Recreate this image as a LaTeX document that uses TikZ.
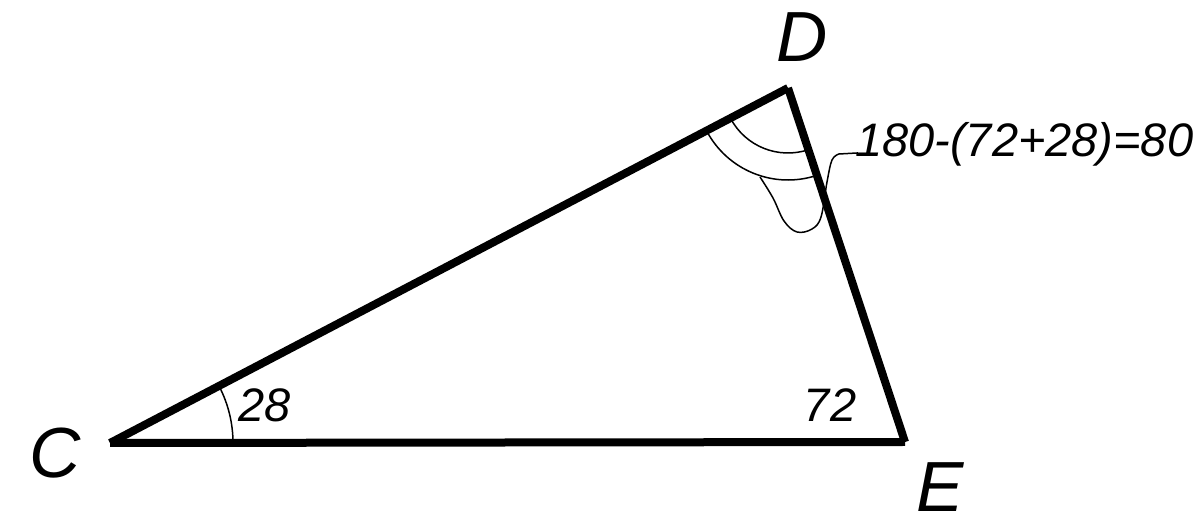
\documentclass[tikz,border=0pt]{standalone}
\usepackage{fontspec}
\setmainfont{Liberation Sans}
\usetikzlibrary{angles}
\begin{document}
\begin{tikzpicture}[x=1pt,y=1pt,
  side/.style={line width=8pt,line cap=butt},
  thin/.style={line width=1.5pt},
  biglabel/.style={inner sep=0pt,font=\fontsize{71}{71}\selectfont\itshape},
  numlabel/.style={inner sep=0pt,font=\fontsize{47}{47}\selectfont\itshape}]
\useasboundingbox (0,0) rectangle (1199,524);
\coordinate (C) at (110,81);
\coordinate (D) at (788,436);
\coordinate (E) at (905,82);
% angle arcs
\pic[draw,thin,angle radius=123pt] {angle = E--C--D};
\pic[draw,thin,angle radius=65pt] {angle = C--D--E};
\pic[draw,thin,angle radius=92pt] {angle = C--D--E};
% squiggle leader
\coordinate (lead) at (857,371);
\draw[thin] plot[smooth,tension=0.6] coordinates {(760,347) (773,326) (784,303) (797,292) (812,295) (821,307) (827,342) (832,364) (839,370)} -- (lead) -- ++(0,-3);
% sides
\draw[side] (C) -- (D);
\draw[side] (D) -- (E);
\draw[side] (C) -- (E);
% labels
\node[biglabel] (lD) at (802,487) {D};
\node[biglabel] (lC) at (55,71) {C};
\node[biglabel] (lE) at (940,37) {E};
\node[numlabel] (l28) at (265,119) {28};
\node[numlabel] (l72) at (830,119) {72};
\node[numlabel,anchor=base west] (lsum) at (856,367) {180-(72+28)=80};
\end{tikzpicture}
\end{document}
